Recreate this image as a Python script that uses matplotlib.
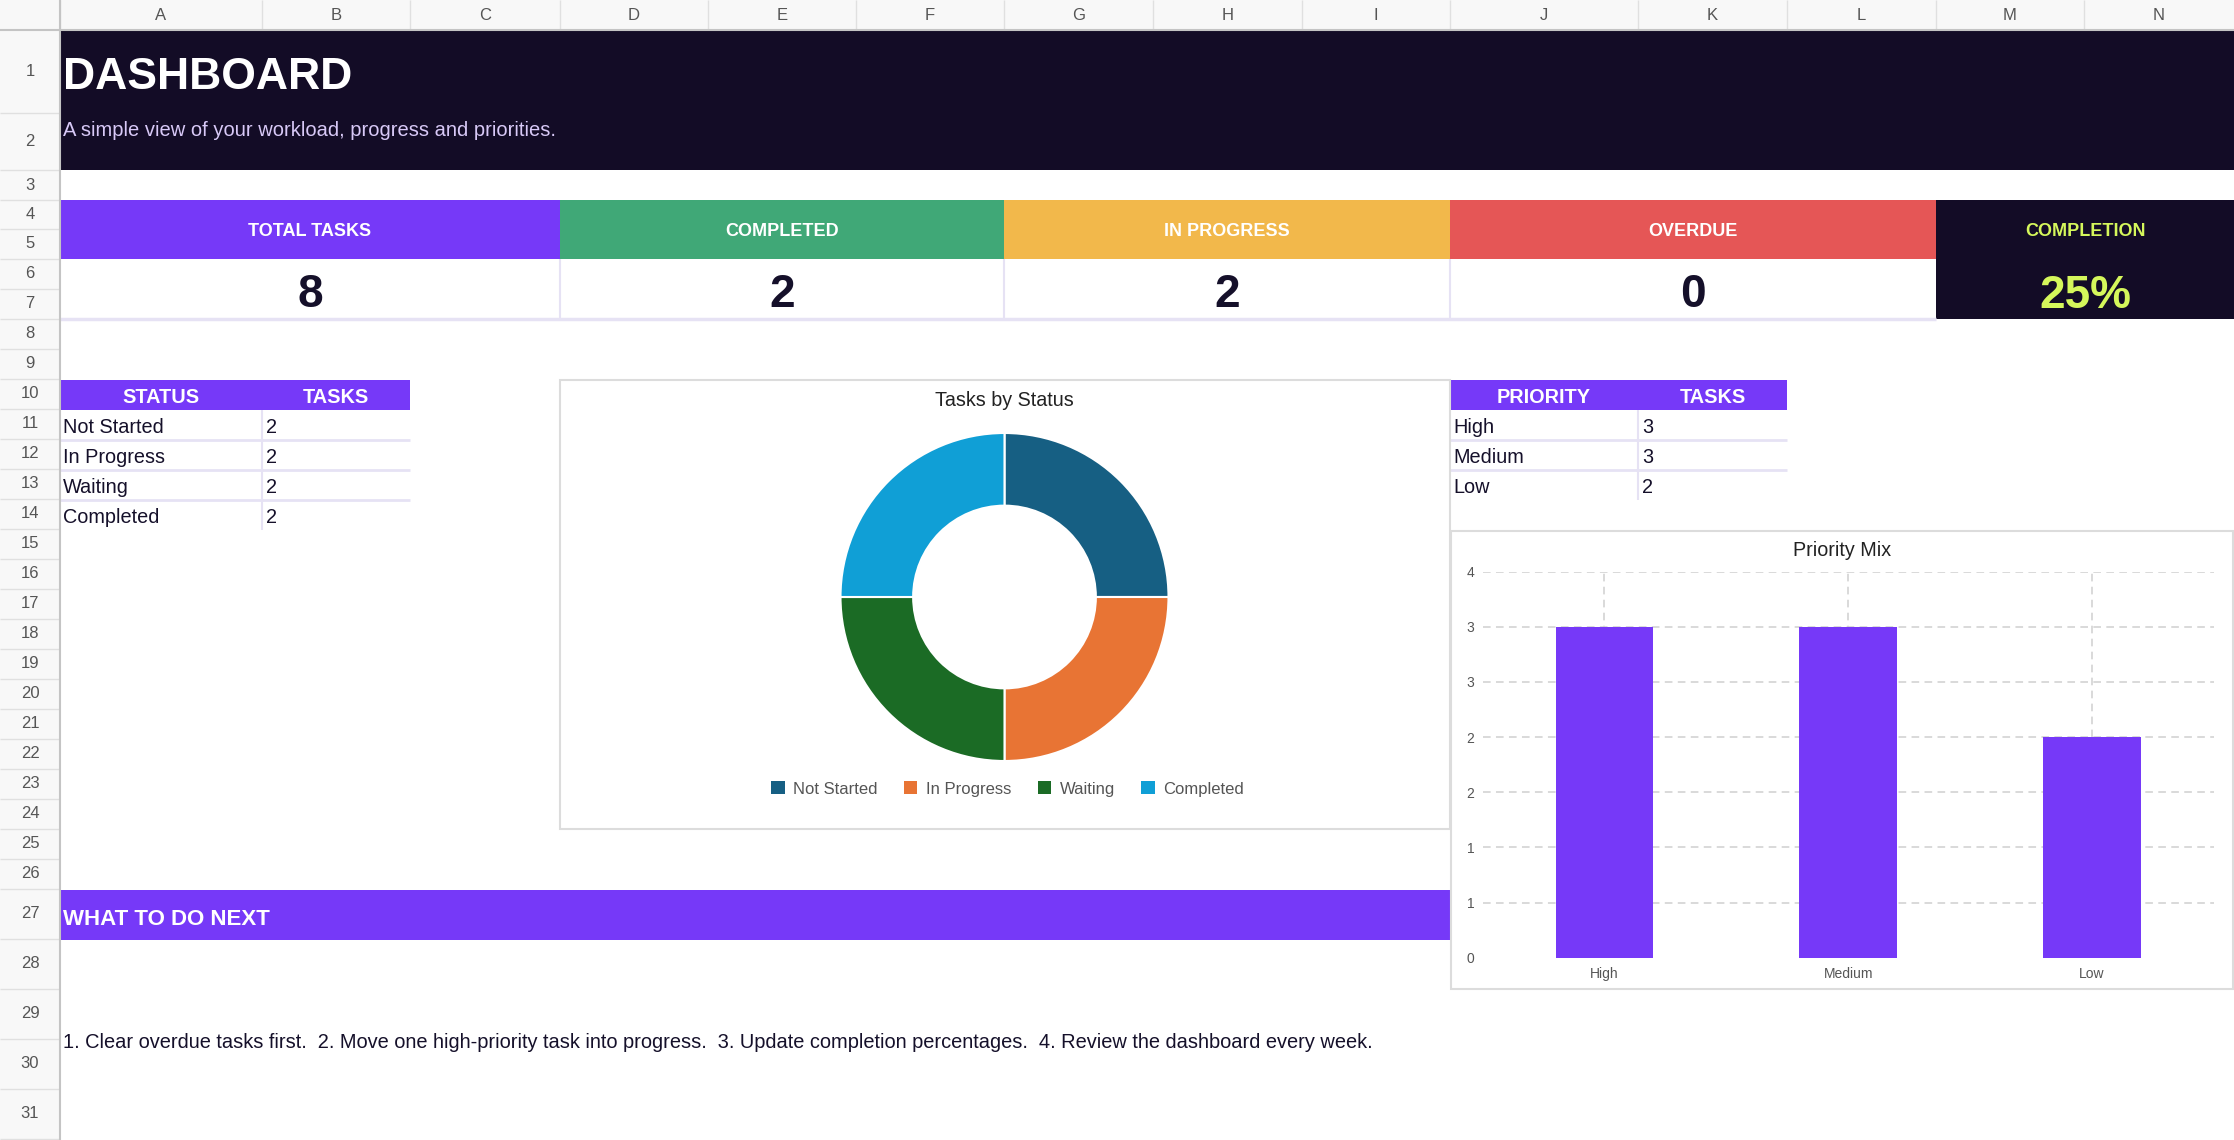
import matplotlib
matplotlib.use("Agg")
import matplotlib.pyplot as plt
from matplotlib.patches import Rectangle, Patch

plt.rcParams['font.family'] = ['Liberation Sans', 'DejaVu Sans']

# ---------------- data ----------------
title = "DASHBOARD"
subtitle = "A simple view of your workload, progress and priorities."
kpi_labels = ["TOTAL TASKS", "COMPLETED", "IN PROGRESS", "OVERDUE", "COMPLETION"]
kpi_values = ["8", "2", "2", "0", "25%"]
status_labels = ["Not Started", "In Progress", "Waiting", "Completed"]
status_counts = [2, 2, 2, 2]
priority_labels = ["High", "Medium", "Low"]
priority_counts = [3, 3, 2]
y_ticks = [0, 0.5, 1, 1.5, 2, 2.5, 3, 3.5]
y_tick_labels = ["0", "1", "1", "2", "2", "3", "3", "4"]
col_letters = list("ABCDEFGHIJKLMN")
next_steps = ("1. Clear overdue tasks first.  2. Move one high-priority task into progress.  "
              "3. Update completion percentages.  4. Review the dashboard every week.")

# ---------------- style ----------------
W, H = 2234, 1140
DARK = "#130c26"
PURPLE = "#7639f8"
GREEN = "#40a877"
YELLOW = "#f2b84b"
RED = "#e55656"
LIME = "#d5f75b"
LAV = "#e6e2f4"
TXT = "#15102a"
kpi_colors = [PURPLE, GREEN, YELLOW, RED, DARK]
donut_colors = ["#165f83", "#e87434", "#1b6b25", "#109fd6"]

col_edges = [60, 262, 410, 560, 708, 856, 1004, 1153, 1302, 1450, 1638, 1787, 1936, 2084, 2234]
row_edges = [30, 113, 170, 200, 229, 259, 289, 319]
for r in range(8, 27):
    row_edges.append(row_edges[-1] + 30)
for r in range(27, 32):
    row_edges.append(row_edges[-1] + 50)

fig = plt.figure(figsize=(W / 100, H / 100), dpi=100)
bg = fig.add_axes([0, 0, 1, 1])
bg.set_xlim(0, W)
bg.set_ylim(H, 0)
bg.axis("off")


def rect(x0, y0, x1, y1, fc, ec="none", lw=0, z=1):
    bg.add_patch(Rectangle((x0, y0), x1 - x0, y1 - y0, facecolor=fc, edgecolor=ec, linewidth=lw, zorder=z))


def hline(y, x0, x1, c=LAV, lw=1.5, z=2):
    bg.plot([x0, x1], [y, y], color=c, lw=lw, zorder=z, solid_capstyle="butt")


def vline(x, y0, y1, c=LAV, lw=1.5, z=2):
    bg.plot([x, x], [y0, y1], color=c, lw=lw, zorder=z, solid_capstyle="butt")


# spreadsheet headers
rect(0, 0, W, 30, "#f8f8f8")
rect(0, 0, 60, H, "#f8f8f8")
for i, letter in enumerate(col_letters):
    x0, x1 = col_edges[i], col_edges[i + 1]
    vline(x0, 0, 30, "#e0e0e0", 1)
    bg.text((x0 + x1) / 2, 15, letter, ha="center", va="center", fontsize=12, color="#555555")
for i in range(len(row_edges) - 1):
    y0, y1 = row_edges[i], row_edges[i + 1]
    hline(y1, 0, 60, "#e0e0e0", 1)
    bg.text(30, (y0 + y1) / 2, str(i + 1), ha="center", va="center", fontsize=12, color="#555555")
hline(30, 0, W, "#c4c4c4", 1.5, z=3)
vline(60, 0, H, "#c4c4c4", 1.5, z=3)

# title band
rect(60, 30, W, 170, DARK)
bg.text(63, 89, title, ha="left", va="baseline", fontsize=32, fontweight="bold", color="white")
bg.text(63, 136, subtitle, ha="left", va="baseline", fontsize=14.5, color="#d8c9f7")

# KPI cards
kpi_spans = [(60, 560), (560, 1004), (1004, 1450), (1450, 1936), (1936, W)]
for i, (lab, val) in enumerate(zip(kpi_labels, kpi_values)):
    x0, x1 = kpi_spans[i]
    cx = (x0 + x1) / 2
    if i < 4:
        rect(x0, 200, x1, 259, kpi_colors[i])
        rect(x0, 259, x1, 319, "white")
        bg.text(cx, 236.5, lab, ha="center", va="baseline", fontsize=13, fontweight="bold", color="white")
        bg.text(cx, 307, val, ha="center", va="baseline", fontsize=33, fontweight="bold", color=TXT)
    else:
        rect(x0, 200, x1, 319, DARK)
        bg.text(cx, 236.5, lab, ha="center", va="baseline", fontsize=13, fontweight="bold", color=LIME)
        bg.text(cx, 308, val, ha="center", va="baseline", fontsize=33, fontweight="bold", color=LIME)
hline(319, 60, 1936, LAV, 2.5)
for x in (560, 1004, 1450):
    vline(x, 259, 319, LAV, 1.5)


# tables
def table(x0, xm, x1, headers, labels, values):
    rect(x0, 380, x1, 410, PURPLE)
    bg.text((x0 + xm) / 2, 403, headers[0], ha="center", va="baseline", fontsize=14.3, fontweight="bold", color="white")
    bg.text((xm + x1) / 2, 403, headers[1], ha="center", va="baseline", fontsize=14.3, fontweight="bold", color="white")
    for k, (lab, v) in enumerate(zip(labels, values)):
        y0 = 410 + 30 * k
        bg.text(x0 + 3, y0 + 22.7, lab, ha="left", va="baseline", fontsize=14.3, color=TXT)
        bg.text(xm + 4, y0 + 22.7, str(v), ha="left", va="baseline", fontsize=14.3, color=TXT)
        if k < len(labels) - 1:
            hline(y0 + 30, x0, x1, LAV, 2)
    vline(xm, 410, 410 + 30 * len(labels), LAV, 1.5)


table(60, 262, 410, ["STATUS", "TASKS"], status_labels, status_counts)
table(1450, 1638, 1787, ["PRIORITY", "TASKS"], priority_labels, priority_counts)

# next-steps band and text
rect(60, 890, 1450, 940, PURPLE)
bg.text(63, 925, "WHAT TO DO NEXT", ha="left", va="baseline", fontsize=16, fontweight="bold", color="white")
bg.text(63, 1048, next_steps, ha="left", va="baseline", fontsize=14.4, color=TXT)

# chart boxes
rect(560, 380, 1450, 829, "white", "#dcdcdc", 1.5, z=4)
rect(1451, 531, 2233, 989, "white", "#dcdcdc", 1.5, z=4)
bg.text(1004.5, 406, "Tasks by Status", ha="center", va="baseline", fontsize=14.2, color="#222222", zorder=5)
bg.text(1842, 556, "Priority Mix", ha="center", va="baseline", fontsize=14.2, color="#222222", zorder=5)

# donut chart
cx, cy, R = 1004.5, 597, 164
axd = fig.add_axes([(cx - R) / W, 1 - (cy + R) / H, 2 * R / W, 2 * R / H])
axd.pie(status_counts, colors=donut_colors, startangle=90, counterclock=False, radius=1,
        wedgeprops=dict(width=0.443, edgecolor="white", linewidth=1.5))
axd.set_xlim(-1.0, 1.0)
axd.set_ylim(-1.0, 1.0)
axd.set_aspect("equal")
axd.axis("off")
handles = [Patch(facecolor=c, edgecolor="none") for c in donut_colors]
leg = fig.legend(handles, status_labels, loc="center", bbox_to_anchor=(1007.5 / W, 1 - 789 / H),
                 ncol=4, frameon=False, fontsize=12, handlelength=0.8, handleheight=0.8,
                 handletextpad=0.5, columnspacing=1.6, borderpad=0)
for t in leg.get_texts():
    t.set_color("#555555")

# bar chart
x0p, x1p, ytop, ybot = 1482.5, 2214, 571.7, 957.7
axb = fig.add_axes([x0p / W, 1 - ybot / H, (x1p - x0p) / W, (ybot - ytop) / H])
xs = list(range(len(priority_labels)))
axb.bar(xs, priority_counts, width=0.4, color=PURPLE, zorder=3)
axb.set_xlim(-0.5, len(priority_labels) - 0.5)
axb.set_ylim(0, 3.5)
axb.set_yticks(y_ticks)
axb.set_yticklabels(y_tick_labels)
axb.set_xticks(xs)
axb.set_xticklabels(priority_labels)
axb.set_axisbelow(True)
axb.grid(True, axis="both", color="#d0d0d0", linestyle=(0, (5, 3.5)), linewidth=1.1)
axb.yaxis.get_gridlines()[0].set_visible(False)
for s in axb.spines.values():
    s.set_visible(False)
axb.tick_params(axis="both", length=0, labelsize=10, colors="#555555")
axb.tick_params(axis="y", pad=6)
axb.tick_params(axis="x", pad=7)
axb.patch.set_alpha(0)

fig.savefig("out.png", dpi=100)
